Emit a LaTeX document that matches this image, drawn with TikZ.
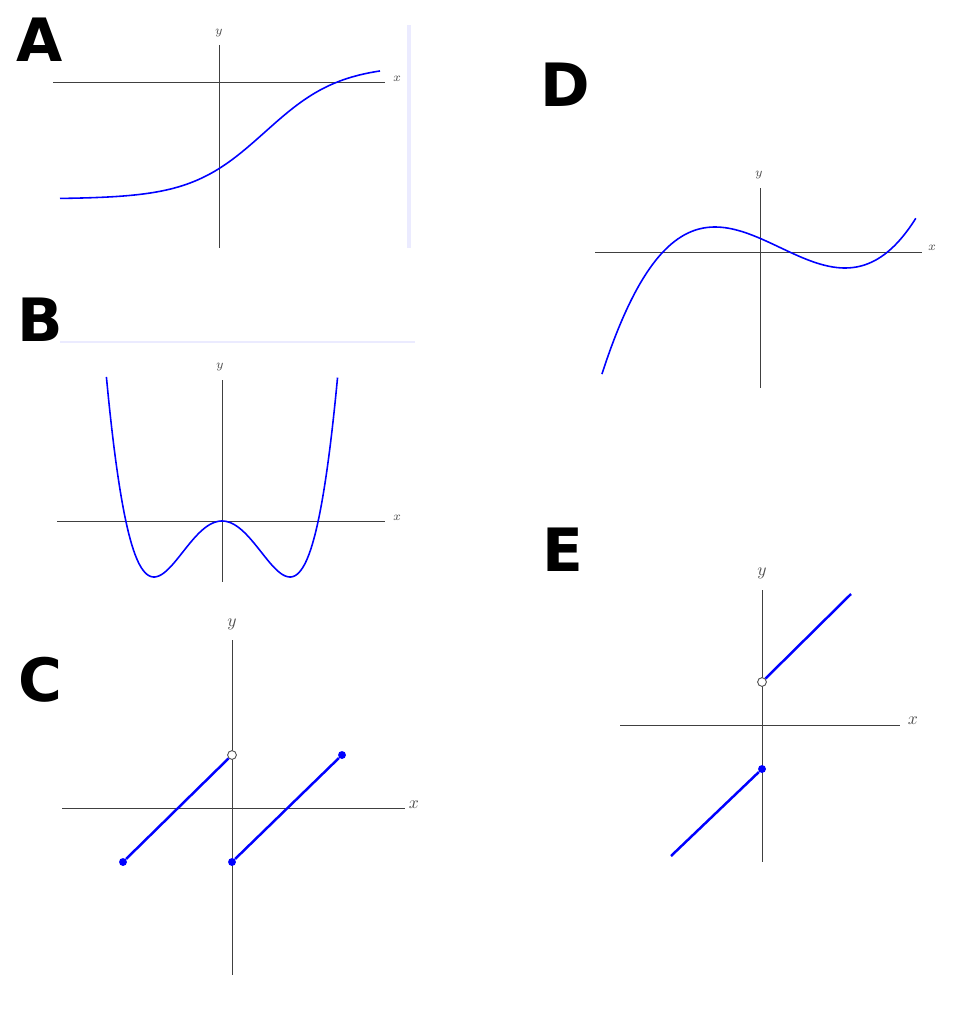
\documentclass[tikz,border=0pt]{standalone}
\usepackage{fontspec}
\newfontfamily\panelfont{DejaVu Sans}
\usetikzlibrary{positioning}
\tikzset{
  axis/.style={draw=black!75, line width=0.4pt},
  curve/.style={draw=blue, line width=0.9pt},
  seg/.style={draw=blue, line width=1.4pt},
  panel/.style={font=\panelfont\bfseries\fontsize{34}{34}\selectfont, anchor=center},
  lbl/.style={font=\scriptsize, text=black!70},
  biglbl/.style={font=\normalsize, text=black!70},
  full/.style={circle, fill=blue, inner sep=0pt, minimum size=4.5pt},
  hollow/.style={circle, draw=black!70, fill=white, inner sep=0pt, minimum size=5pt, line width=0.5pt},
}
\begin{document}
\begin{tikzpicture}[x=0.02cm, y=-0.02cm]
	\useasboundingbox (0,0) rectangle (962,1024);

	% A
	\node[panel] (pa) at (40,40) {A};
	\draw[blue!8, line width=2.5pt] (409,25) -- (409,248);
	\coordinate (ax1) at (53,82); \coordinate (ax2) at (385,82);
	\coordinate (ay1) at (219,45); \coordinate (ay2) at (219,248);
	\draw[axis] (ax1) -- (ax2);
	\draw[axis] (ay1) -- (ay2);
	\node[lbl] (axl) at (397,79) {$x$};
	\node[lbl] (ayl) at (219,33) {$y$};
	\draw[curve] plot[domain=60:380, samples=80, smooth] (\x, {132 - 67*tanh((\x-265)/75)});

	% B
	\node[panel] (pb) at (40,320) {B};
	\draw[blue!8, line width=1pt] (60,342) -- (415,342);
	\coordinate (bx1) at (57,521); \coordinate (bx2) at (385,521);
	\coordinate (by1) at (222,380); \coordinate (by2) at (222,582);
	\draw[axis] (bx1) -- (bx2);
	\draw[axis] (by1) -- (by2);
	\node[lbl] (bxl) at (397,518) {$x$};
	\node[lbl] (byl) at (220,367) {$y$};
	\draw[curve] plot[domain=-1.7:1.7, samples=120, smooth]
		({222 + 68*\x}, {521 - 56*(\x*\x*\x*\x - 2*\x*\x)});

	% C
	\node[panel] (pc) at (40,680) {C};
	\coordinate (cx1) at (62,808); \coordinate (cx2) at (405,808);
	\coordinate (cy1) at (232,640); \coordinate (cy2) at (232,975);
	\draw[axis] (cx1) -- (cx2);
	\draw[axis] (cy1) -- (cy2);
	\node[biglbl] (cxl) at (414,805) {$x$};
	\node[biglbl] (cyl) at (232,624) {$y$};
	\node[full] (c1) at (123,862) {};
	\node[hollow] (c2) at (232,755) {};
	\node[full] (c3) at (232,862) {};
	\node[full] (c4) at (342,755) {};
	\draw[seg] (c1) -- (c2);
	\draw[seg] (c3) -- (c4);

	% D
	\node[panel] (pd) at (565,85) {D};
	\coordinate (dx1) at (595,252); \coordinate (dx2) at (922,252);
	\coordinate (dy1) at (760,188); \coordinate (dy2) at (760,388);
	\draw[axis] (dx1) -- (dx2);
	\draw[axis] (dy1) -- (dy2);
	\node[lbl] (dxl) at (932,248) {$x$};
	\node[lbl] (dyl) at (759,175) {$y$};
	\draw[curve] plot[domain=-2.74:2.09, samples=100, smooth]
		({780 + 65*\x}, {247.5 - 10.25*(\x*\x*\x - 3*\x)});

	% E
	\node[panel] (pe) at (563,550) {E};
	\coordinate (ex1) at (620,725); \coordinate (ex2) at (900,725);
	\coordinate (ey1) at (762,590); \coordinate (ey2) at (762,862);
	\draw[axis] (ex1) -- (ex2);
	\draw[axis] (ey1) -- (ey2);
	\node[biglbl] (exl) at (913,721) {$x$};
	\node[biglbl] (eyl) at (762,573) {$y$};
	\node[hollow] (e1) at (762,682) {};
	\coordinate (e2) at (851,594);
	\coordinate (e3) at (671,856);
	\node[full] (e4) at (762,769) {};
	\draw[seg] (e1) -- (e2);
	\draw[seg] (e3) -- (e4);
\end{tikzpicture}
\end{document}
